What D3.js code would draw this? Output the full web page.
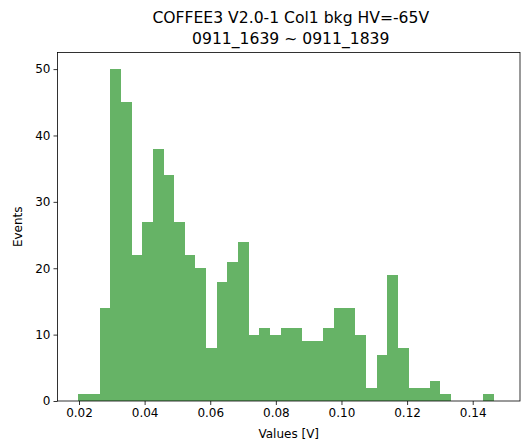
<!DOCTYPE html>
<html>
<head>
<meta charset="utf-8">
<script src="https://cdn.jsdelivr.net/npm/d3@7"></script>
<style>
  html, body { margin: 0; padding: 0; background: #fff; }
  svg { display: block; }
  text { font-family: "DejaVu Sans", sans-serif; fill: #000; }
</style>
</head>
<body>
<svg id="chart" width="523" height="442"></svg>
<script>
// Histogram data (counts per bin)
const dataMin = 0.01979;
const dataMax = 0.1464;
const binCount = 39;
const counts = [1, 1, 14, 50, 45, 22, 27, 38, 34, 27, 22, 20, 8, 18, 21, 24, 10, 11, 10, 11,
                11, 9, 9, 11, 14, 14, 10, 2, 7, 19, 8, 2, 2, 3, 1, 0, 0, 0, 1];
const xTicks = [0.02, 0.04, 0.06, 0.08, 0.10, 0.12, 0.14];
const yTicks = [0, 10, 20, 30, 40, 50];
const titleLines = ["COFFEE3 V2.0-1 Col1 bkg HV=-65V", "0911_1639 ~ 0911_1839"];
const xLabel = "Values [V]";
const yLabel = "Events";

const svg = d3.select("#chart");
const L = 57.5, R = 520, T = 52.5, B = 401;

const x = d3.scaleLinear().domain([0.013447, 0.154411]).range([L, R]);
const y = d3.scaleLinear().domain([0, 52.5]).range([B, T]);

const binW = (dataMax - dataMin) / binCount;
const bins = counts.map((c, i) => ({ x0: dataMin + i * binW, x1: dataMin + (i + 1) * binW, c }));

svg.append("g").selectAll("rect").data(bins.filter(d => d.c > 0)).join("rect")
  .attr("x", d => x(d.x0))
  .attr("width", d => x(d.x1) - x(d.x0))
  .attr("y", d => y(d.c))
  .attr("height", d => y(0) - y(d.c))
  .attr("fill", "green")
  .attr("fill-opacity", 0.6)
  .attr("shape-rendering", "crispEdges");

// axes
const xAxis = d3.axisBottom(x).tickValues(xTicks).tickFormat(d3.format(".2f")).tickSize(4).tickPadding(3);
const yAxis = d3.axisLeft(y).tickValues(yTicks).tickFormat(d3.format("d")).tickSize(4).tickPadding(3);

const gx = svg.append("g").attr("transform", `translate(0,${B})`).call(xAxis);
const gy = svg.append("g").attr("transform", `translate(${L},0)`).call(yAxis);
[gx, gy].forEach(g => {
  g.select(".domain").remove();
  g.selectAll("line").attr("stroke", "#000").attr("stroke-width", 0.8);
  g.selectAll("text").attr("font-size", 12).attr("font-family", "DejaVu Sans").attr("fill", "#000");
});

// frame
svg.append("rect").attr("x", L).attr("y", T).attr("width", R - L).attr("height", B - T)
  .attr("fill", "none").attr("stroke", "#000").attr("stroke-width", 0.8);

// labels
svg.append("text").attr("x", (L + R) / 2).attr("y", 438).attr("text-anchor", "middle")
  .attr("font-size", 12).text(xLabel);
svg.append("text").attr("transform", `translate(22,${(T + B) / 2}) rotate(-90)`)
  .attr("text-anchor", "middle").attr("font-size", 12).text(yLabel);

svg.append("g").selectAll("text").data(titleLines).join("text")
  .attr("x", (L + R) / 2 + 2)
  .attr("y", (d, i) => 23 + i * 21)
  .attr("text-anchor", "middle")
  .attr("font-size", 15.6)
  .text(d => d);
</script>
</body>
</html>
